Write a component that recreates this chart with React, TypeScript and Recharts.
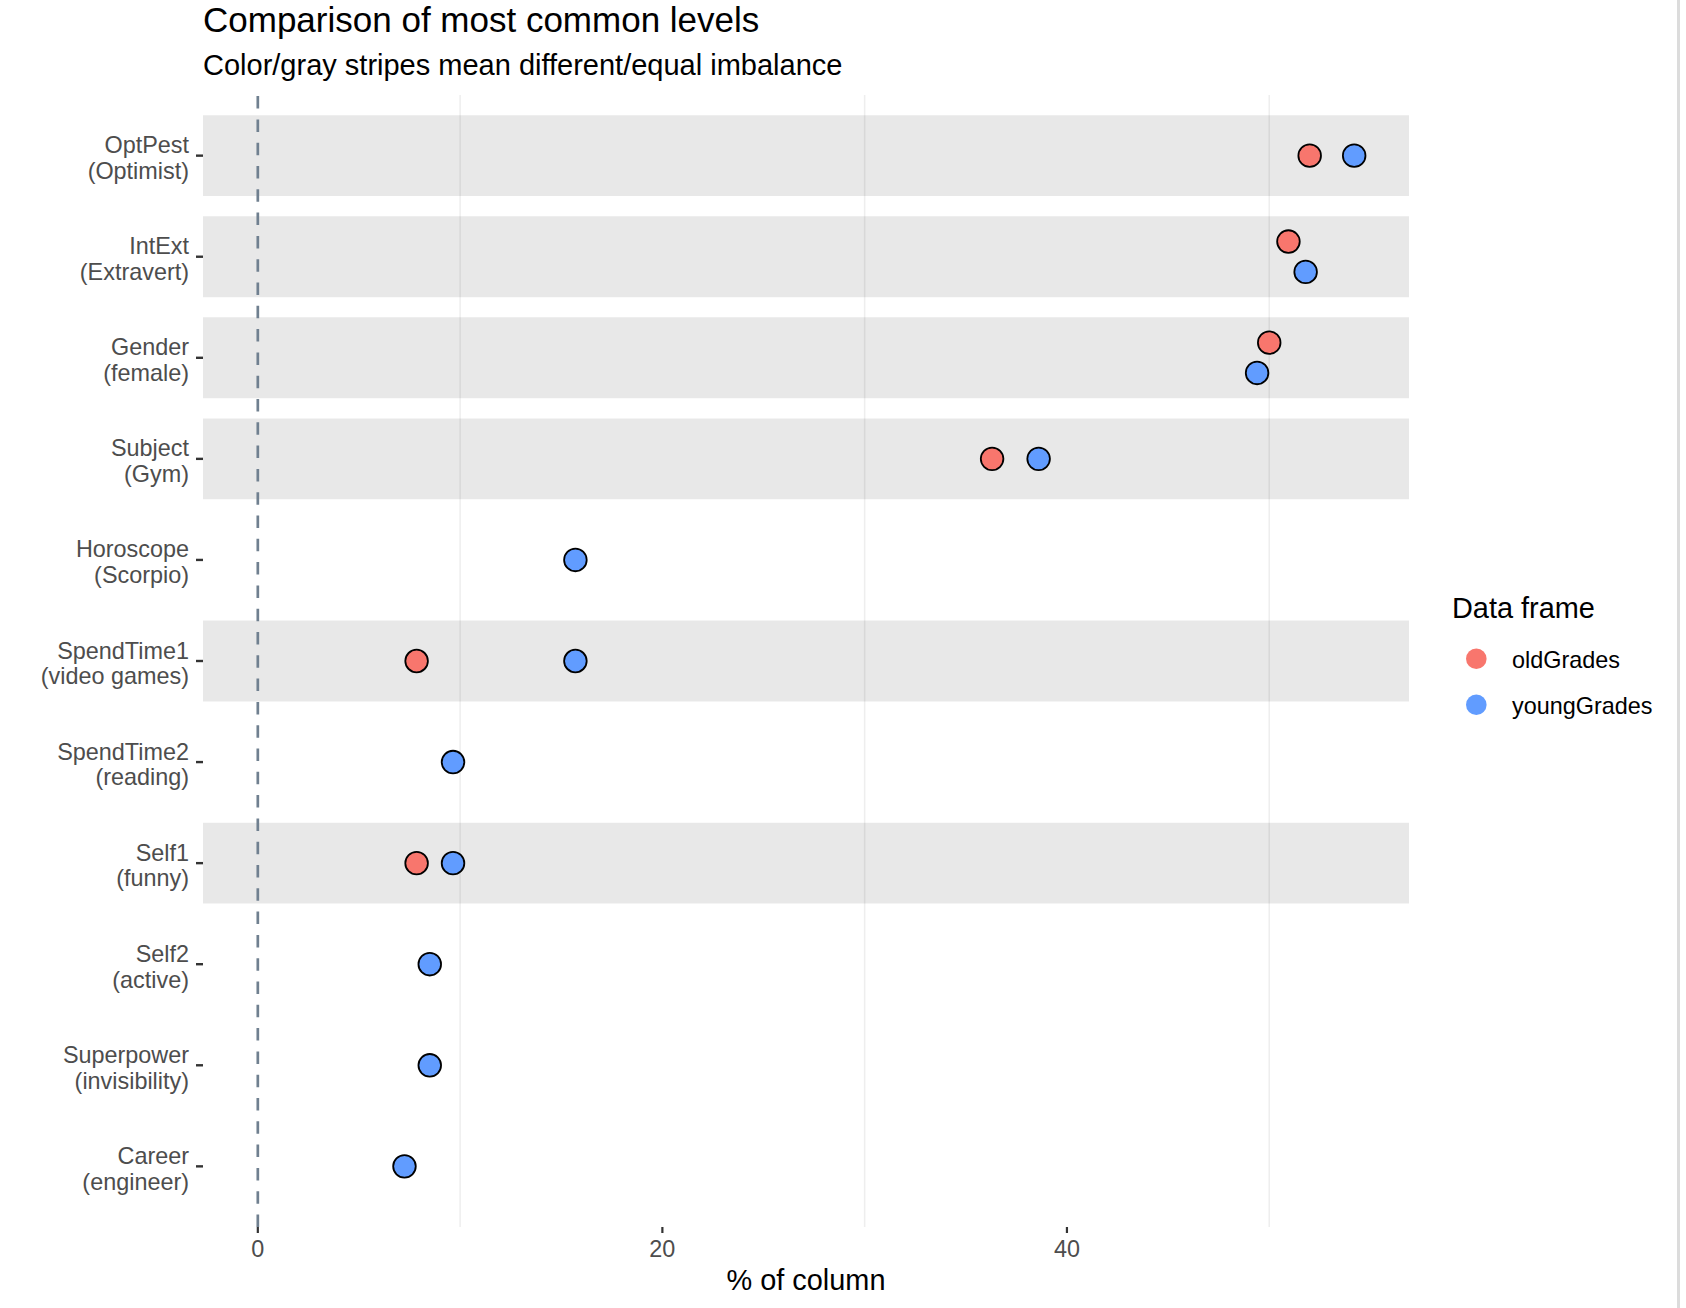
import React from "react";
import { ScatterChart, Scatter, XAxis, YAxis, ReferenceArea, ReferenceLine, Label } from "recharts";

// variable / most common level per row, top to bottom
const variables = ["OptPest", "IntExt", "Gender", "Subject", "Horoscope", "SpendTime1", "SpendTime2", "Self1", "Self2", "Superpower", "Career"];
const levels = ["Optimist", "Extravert", "female", "Gym", "Scorpio", "video games", "reading", "funny", "active", "invisibility", "engineer"];

// % of column holding that level (null = same as youngGrades, hidden underneath)
const oldGrades = [52.0, 50.95, 50.0, 36.3, null, 7.85, null, 7.85, null, null, null];
const youngGrades = [54.2, 51.8, 49.4, 38.6, 15.7, 15.7, 9.65, 9.65, 8.5, 8.5, 7.25];

const xTicks = [0, 20, 40];
const gridValues = [10, 30, 50];

const OLD_COLOR = "#F8766D";
const YOUNG_COLOR = "#619CFF";
const FONT = "'Liberation Sans', Arial, Helvetica, sans-serif";

const W = 1686;
const H = 1308;

// nudge overlapping pairs apart vertically
const DODGE = 0.15;
const overlaps = (i: number) => oldGrades[i] != null && Math.abs((oldGrades[i] as number) - youngGrades[i]) < 1.2;

const oldPoints = oldGrades.flatMap((v, i) => (v == null ? [] : [{ x: v, y: i - (overlaps(i) ? DODGE : 0) }]));
const youngPoints = youngGrades.map((v, i) => ({ x: v, y: i + (overlaps(i) ? DODGE : 0) }));

// ggplot-style 5% expansion around the data (zero line included)
const allX = [0, ...youngGrades, ...(oldGrades.filter((v) => v != null) as number[])];
const xMin = Math.min(...allX);
const xMax = Math.max(...allX);
const pad = (xMax - xMin) * 0.05;
const xDomain = [xMin - pad, xMax + pad];

const RowTick = (props: any) => {
  const { x, y, payload } = props;
  const i = payload.value as number;
  return (
    <text x={x} y={y} textAnchor="end" fill="#4D4D4D" fontSize={23.4} fontFamily={FONT}>
      <tspan x={x} dy={-2.5}>{variables[i]}</tspan>
      <tspan x={x} dy={25.8}>({levels[i]})</tspan>
    </text>
  );
};

const dot = (fill: string) => (props: any) => (
  <circle cx={props.cx} cy={props.cy} r={11.3} fill={fill} stroke="#000" strokeWidth={1.8} />
);

export default function App() {
  return (
    <div style={{ position: "absolute", left: 0, top: 0, width: W, height: H, background: "#fff", fontFamily: FONT }}>
      <ScatterChart width={W} height={H} margin={{ top: 95, right: 277, bottom: 0, left: 0 }}>
        <XAxis
          type="number"
          dataKey="x"
          domain={xDomain}
          allowDataOverflow
          ticks={xTicks}
          height={81}
          axisLine={false}
          tickSize={6}
          tickMargin={7}
          tickLine={{ stroke: "#333", strokeWidth: 2.2 }}
          tick={{ fill: "#4D4D4D", fontSize: 23.4, fontFamily: FONT }}
        >
          <Label value="% of column" position="insideBottom" offset={18} fill="#000" fontSize={28.9} fontFamily={FONT} />
        </XAxis>
        <YAxis
          type="number"
          dataKey="y"
          domain={[-0.6, variables.length - 0.4]}
          allowDataOverflow
          reversed
          ticks={variables.map((_, i) => i)}
          interval={0}
          width={203}
          axisLine={false}
          tickSize={7}
          tickMargin={7}
          tickLine={{ stroke: "#333", strokeWidth: 2.4 }}
          tick={RowTick}
        />
        {oldGrades.map((v, i) =>
          v == null ? null : (
            <ReferenceArea key={"s" + i} y1={i - 0.4} y2={i + 0.4} fill="#000" fillOpacity={0.09} stroke="none" />
          )
        )}
        {gridValues.map((v) => (
          <ReferenceLine key={"g" + v} x={v} stroke="#000" strokeOpacity={0.065} strokeWidth={1.6} />
        ))}
        <ReferenceLine x={0} stroke="#708090" strokeWidth={2.7} strokeDasharray="12.5 10.8" />
        <Scatter name="oldGrades" data={oldPoints} shape={dot(OLD_COLOR)} isAnimationActive={false} />
        <Scatter name="youngGrades" data={youngPoints} shape={dot(YOUNG_COLOR)} isAnimationActive={false} />
      </ScatterChart>

      <svg width={W} height={H} style={{ position: "absolute", left: 0, top: 0, pointerEvents: "none" }}>
        <text x={203} y={32} fontSize={35} fill="#000" fontFamily={FONT}>
          Comparison of most common levels
        </text>
        <text x={203} y={75} fontSize={29} fill="#000" fontFamily={FONT}>
          Color/gray stripes mean different/equal imbalance
        </text>

        <text x={1452} y={618} fontSize={28.9} fill="#000" fontFamily={FONT}>
          Data frame
        </text>
        <circle cx={1476.3} cy={658.7} r={10.3} fill={OLD_COLOR} />
        <text x={1512} y={667.5} fontSize={23.4} fill="#000" fontFamily={FONT}>
          oldGrades
        </text>
        <circle cx={1476.3} cy={704.7} r={10.3} fill={YOUNG_COLOR} />
        <text x={1512} y={713.5} fontSize={23.4} fill="#000" fontFamily={FONT}>
          youngGrades
        </text>
      </svg>

      <div style={{ position: "absolute", left: 1677, top: 0, width: 3, height: H, background: "#DCDCDC" }} />
    </div>
  );
}
